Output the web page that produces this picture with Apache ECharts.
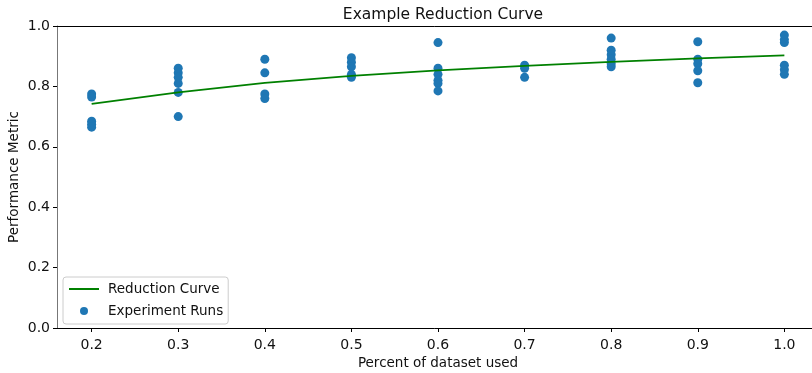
<!DOCTYPE html>
<html>
<head>
<meta charset="utf-8">
<script src="https://cdn.jsdelivr.net/npm/echarts@6/dist/echarts.min.js"></script>
<style>html,body{margin:0;padding:0;background:#fff}#c{width:812px;height:373px}</style>
</head>
<body>
<div id="c"></div>
<script>
const xTicks = [0.2, 0.3, 0.4, 0.5, 0.6, 0.7, 0.8, 0.9, 1.0];
const yTicks = [0.0, 0.2, 0.4, 0.6, 0.8, 1.0];
const curveValues = [0.742, 0.780, 0.812, 0.835, 0.853, 0.868, 0.881, 0.893, 0.903];
const runs_0_2 = [0.775, 0.765, 0.685, 0.675, 0.665];
const runs_0_3 = [0.86, 0.845, 0.83, 0.81, 0.78, 0.70];
const runs_0_4 = [0.89, 0.845, 0.775, 0.76];
const runs_0_5 = [0.895, 0.88, 0.865, 0.84, 0.83];
const runs_0_6 = [0.945, 0.86, 0.84, 0.82, 0.81, 0.785];
const runs_0_7 = [0.87, 0.86, 0.83];
const runs_0_8 = [0.96, 0.92, 0.905, 0.89, 0.875, 0.865];
const runs_0_9 = [0.948, 0.89, 0.875, 0.852, 0.812];
const runs_1_0 = [0.97, 0.955, 0.945, 0.87, 0.855, 0.84];
const runsByX = [runs_0_2, runs_0_3, runs_0_4, runs_0_5, runs_0_6, runs_0_7, runs_0_8, runs_0_9, runs_1_0];

const scatterData = [];
runsByX.forEach((arr, i) => arr.forEach(v => scatterData.push([xTicks[i], v])));
const lineData = xTicks.map((x, i) => [x, curveValues[i]]);

const FONT = 'DejaVu Sans';
const chart = echarts.init(document.getElementById('c'), null, {renderer: 'canvas'});
chart.setOption({
  animation: false,
  backgroundColor: '#fff',
  title: {
    text: 'Example Reduction Curve',
    left: 438, top: 2, textAlign: 'center',
    textStyle: {fontFamily: FONT, fontSize: 15.5, fontWeight: 'normal', color: '#111'}
  },
  grid: {left: 57, right: -7, top: 26, bottom: 45, containLabel: false, outerBoundsMode: 'none'},
  legend: {
    orient: 'vertical', left: 63, top: 277,
    padding: [5, 5, 6, 5],
    itemWidth: 30, itemHeight: 8, itemGap: 8,
    borderColor: '#cccccc', borderWidth: 1, borderRadius: 3,
    backgroundColor: 'rgba(255,255,255,0.85)',
    textStyle: {fontFamily: FONT, fontSize: 13.5, color: '#111', padding: [0, 0, 0, 4]},
    data: [{name: 'Reduction Curve', itemStyle: {opacity: 0}}, 'Experiment Runs']
  },
  xAxis: [{
    type: 'value', min: 0.16, max: 1.04,
    name: 'Percent of dataset used', nameLocation: 'middle', nameGap: 28,
    nameTextStyle: {fontFamily: FONT, fontSize: 13.5, color: '#111'},
    axisLine: {lineStyle: {color: '#000', width: 1}},
    axisTick: {show: true, length: 4, lineStyle: {color: '#000'}, customValues: xTicks},
    axisLabel: {fontFamily: FONT, fontSize: 14, color: '#111', margin: 10,
      customValues: xTicks, formatter: v => v.toFixed(1)},
    splitLine: {show: false}
  }, {
    type: 'value', position: 'top', min: 0.16, max: 1.04,
    axisLine: {show: true, lineStyle: {color: '#000', width: 1}},
    axisTick: {show: false}, axisLabel: {show: false}, splitLine: {show: false}
  }],
  yAxis: {
    type: 'value', min: 0, max: 1, interval: 0.2,
    name: 'Performance Metric', nameLocation: 'middle', nameGap: 36, nameRotate: 90,
    nameMoveOverlap: false,
    nameTextStyle: {fontFamily: FONT, fontSize: 13.5, color: '#111'},
    axisLine: {show: true, lineStyle: {color: '#777', width: 1}},
    axisTick: {show: true, length: 4, lineStyle: {color: '#000'}},
    axisLabel: {fontFamily: FONT, fontSize: 14, color: '#111', margin: 7,
      formatter: v => v.toFixed(1)},
    splitLine: {show: false}
  },
  series: [{
    name: 'Reduction Curve', type: 'line', data: lineData,
    symbol: 'none', lineStyle: {color: '#008000', width: 1.8}, itemStyle: {color: '#008000'},
    z: 3
  }, {
    name: 'Experiment Runs', type: 'scatter', data: scatterData,
    symbol: 'circle', symbolSize: 9, itemStyle: {color: '#1f77b4', opacity: 1},
    z: 2
  }]
});
</script>
</body>
</html>
